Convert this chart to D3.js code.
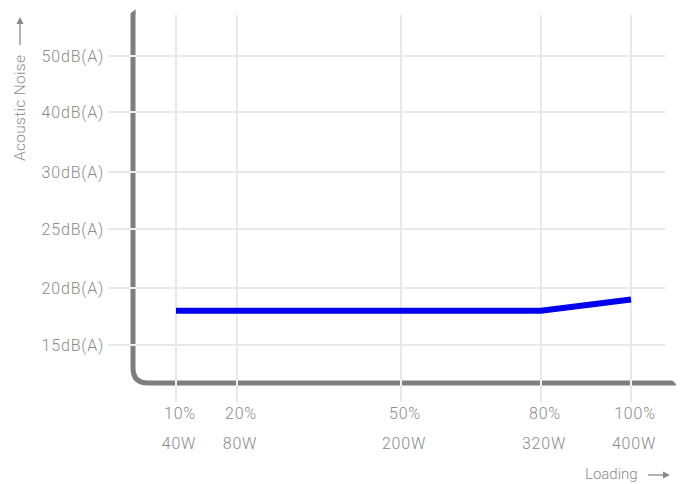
<!DOCTYPE html>
<html><head><meta charset="utf-8">
<script src="https://cdn.jsdelivr.net/npm/d3@7"></script>
<style>html,body{margin:0;padding:0;background:#fff;}svg{display:block;}</style>
</head><body>
<svg id="chart" width="680" height="484"></svg>
<script>
// Data
const loadPercent = [10, 20, 50, 80, 100];
const loadPercentLabels = ["10%", "20%", "50%", "80%", "100%"];
const loadWattLabels = ["40W", "80W", "200W", "320W", "400W"];
const noiseTicks = [15, 20, 25, 30, 40, 50];
const noiseTickLabels = ["15dB(A)", "20dB(A)", "25dB(A)", "30dB(A)", "40dB(A)", "50dB(A)"];
const noiseValues = [18, 18, 18, 18, 19];

const svg = d3.select("#chart");
const font = "Roboto, 'DejaVu Sans', sans-serif";
const textColor = "#8a8a8a";

// Non-uniform axes (piecewise linear, as in the original)
const x = d3.scaleLinear().domain([10, 20, 50, 80, 100]).range([176, 237, 401, 541, 631]);
const y = d3.scaleLinear().domain([10, 15, 20, 25, 30, 40, 50]).range([383, 345, 288, 229, 172, 112, 56]);

const axisX = 133, axisY = 383, r = 15;

// gridlines
const grid = svg.append("g");
grid.selectAll("line.v").data(loadPercent).join("line")
  .attr("x1", d => x(d)).attr("x2", d => x(d))
  .attr("y1", 15).attr("y2", 402)
  .attr("stroke", "#e8e8e8").attr("stroke-width", 2);
grid.selectAll("line.h").data(noiseTicks).join("line")
  .attr("x1", 108).attr("x2", 665)
  .attr("y1", d => y(d)).attr("y2", d => y(d))
  .attr("stroke", "#e8e8e8").attr("stroke-width", 2);

// axis frame (thick gray L with rounded corner)
const axisPath = `M${axisX},12 L${axisX},${axisY - r} Q${axisX},${axisY} ${axisX + r},${axisY} L676,${axisY}`;
svg.append("path").attr("d", axisPath).attr("fill", "none")
  .attr("stroke", "#7e7e7e").attr("stroke-width", 5);
// slanted top cap
svg.append("path").attr("d", `M${axisX-3},8 L${axisX+3},8 L${axisX-3},14 Z`).attr("fill", "#fff");
svg.append("path").attr("d", `M${axisX-2.5},14 L${axisX+2.5},9 L${axisX+2.5},14 Z`).attr("fill", "#7e7e7e");
// slanted right cap
svg.append("path").attr("d", `M672,${axisY-3} L678,${axisY+3} L680,${axisY+3} L680,${axisY-3} Z`).attr("fill", "#fff");
// small gaps where gridlines cross the axis
svg.append("g").selectAll("line").data(loadPercent).join("line")
  .attr("x1", d => x(d)).attr("x2", d => x(d))
  .attr("y1", axisY - 3).attr("y2", axisY + 3)
  .attr("stroke", "#f0f0f0").attr("stroke-width", 2);
svg.append("g").selectAll("line").data(noiseTicks).join("line")
  .attr("x1", axisX - 3).attr("x2", axisX + 3)
  .attr("y1", d => y(d)).attr("y2", d => y(d))
  .attr("stroke", "#f0f0f0").attr("stroke-width", 2);

// y tick labels
svg.append("g").selectAll("text").data(noiseTicks).join("text")
  .attr("x", 104).attr("y", d => y(d)).attr("dy", "0.35em")
  .attr("text-anchor", "end").attr("font-family", font).attr("font-size", 16)
  .attr("letter-spacing", 0.8).attr("font-weight", 300).attr("fill", textColor)
  .text((d, i) => noiseTickLabels[i]);

// x tick labels
svg.append("g").selectAll("text").data(loadPercent).join("text")
  .attr("x", d => x(d) + 4).attr("y", 419)
  .attr("text-anchor", "middle").attr("font-family", font).attr("font-size", 16)
  .attr("letter-spacing", 0.8).attr("font-weight", 300).attr("fill", textColor)
  .text((d, i) => loadPercentLabels[i]);
svg.append("g").selectAll("text").data(loadPercent).join("text")
  .attr("x", d => x(d) + 3).attr("y", 449)
  .attr("text-anchor", "middle").attr("font-family", font).attr("font-size", 16)
  .attr("letter-spacing", 0.8).attr("font-weight", 300).attr("fill", textColor)
  .text((d, i) => loadWattLabels[i]);

// data line
const line = d3.line().x((d, i) => x(loadPercent[i])).y(d => y(d));
svg.append("path").datum(noiseValues).attr("d", line)
  .attr("fill", "none").attr("stroke", "#0000ee").attr("stroke-width", 6);

// axis titles
svg.append("text").attr("transform", "translate(25,161) rotate(-90)")
  .attr("font-family", font).attr("font-size", 15.5).attr("font-weight", 300)
  .attr("letter-spacing", 0.3).attr("fill", textColor).text("Acoustic Noise");
// up arrow
svg.append("line").attr("x1", 20).attr("x2", 20).attr("y1", 45).attr("y2", 21)
  .attr("stroke", textColor).attr("stroke-width", 1.3);
svg.append("path").attr("d", "M16.5,24 L20,17 L23.5,24 Z").attr("fill", textColor);

svg.append("text").attr("x", 585).attr("y", 479)
  .attr("font-family", font).attr("font-size", 15).attr("font-weight", 300)
  .attr("fill", textColor).text("Loading");
// right arrow
svg.append("line").attr("x1", 648).attr("x2", 666).attr("y1", 475).attr("y2", 475)
  .attr("stroke", textColor).attr("stroke-width", 1.3);
svg.append("path").attr("d", "M663,471.5 L670,475 L663,478.5 Z").attr("fill", textColor);
</script>
</body></html>
